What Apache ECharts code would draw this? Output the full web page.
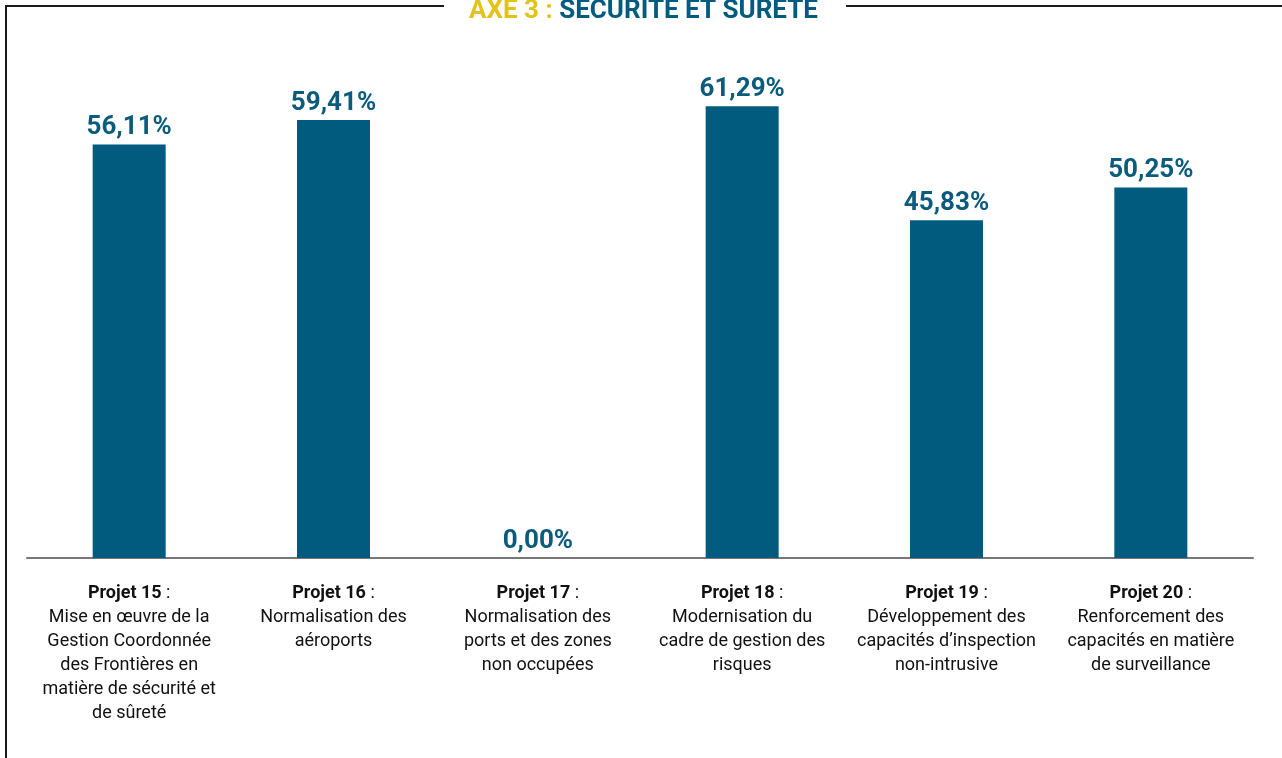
<!DOCTYPE html>
<html>
<head>
<meta charset="utf-8">
<script src="https://cdn.jsdelivr.net/npm/echarts@6/dist/echarts.min.js"></script>
<style>
html,body{margin:0;padding:0;background:#fff;}
#chart{width:1282px;height:758px;}
</style>
</head>
<body>
<div id="chart"></div>
<script>
const titlePrefix = 'AXE 3 : ';
const titleMain = 'SÉCURITÉ ET SÛRETÉ';
const projects = ['Projet 15', 'Projet 16', 'Projet 17', 'Projet 18', 'Projet 19', 'Projet 20'];
const descriptions = [
  'Mise en œuvre de la\nGestion Coordonnée\ndes Frontières en\nmatière de sécurité et\nde sûreté',
  'Normalisation des\naéroports',
  'Normalisation des\nports et des zones\nnon occupées',
  'Modernisation du\ncadre de gestion des\nrisques',
  'Développement des\ncapacités d’inspection\nnon-intrusive',
  'Renforcement des\ncapacités en matière\nde surveillance'
];
const values = [56.11, 59.41, 0.00, 61.29, 45.83, 50.25];

const TEAL = '#005b7f';
const YELLOW = '#e3c21a';
const FONT = 'Roboto';

const chart = echarts.init(document.getElementById('chart'));
chart.setOption({
  backgroundColor: '#ffffff',
  animation: false,
  title: {
    left: 469,
    top: -7,
    padding: [5, 0, 5, 0],
    text: '{y|' + titlePrefix + '}{t|' + titleMain + '}',
    textStyle: {
      rich: {
        y: { fontFamily: FONT, fontWeight: 'bold', fontSize: 26, color: YELLOW },
        t: { fontFamily: FONT, fontWeight: 'bold', fontSize: 26, color: TEAL }
      }
    }
  },
  graphic: [
    { type: 'polyline', silent: true, shape: { points: [[444, 6], [6, 6], [6, 758]] }, style: { stroke: '#1a1a1a', lineWidth: 2, fill: null } },
    { type: 'line', silent: true, shape: { x1: 846, y1: 6, x2: 1282, y2: 6 }, style: { stroke: '#1a1a1a', lineWidth: 2 } }
  ],
  grid: { left: 27, width: 1226, top: 42, bottom: 200, containLabel: false },
  xAxis: {
    type: 'category',
    data: projects,
    axisLine: { show: true, lineStyle: { color: '#777777', width: 2 } },
    axisTick: { show: false },
    axisLabel: {
      interval: 0,
      margin: 23,
      lineHeight: 24,
      formatter: function (v, i) {
        return '{b|' + v + '} :\n' + descriptions[i];
      },
      fontFamily: FONT,
      fontSize: 18,
      color: '#111111',
      rich: {
        b: { fontFamily: FONT, fontWeight: 'bold', fontSize: 18, color: '#111111', lineHeight: 24 }
      }
    }
  },
  yAxis: {
    type: 'value', min: 0, max: 70, show: false,
    splitLine: { show: false }
  },
  series: [{
    type: 'bar',
    data: values,
    barWidth: 73,
    itemStyle: { color: TEAL },
    label: {
      show: true,
      position: 'top',
      distance: 4,
      fontFamily: FONT,
      fontWeight: 'bold',
      fontSize: 26,
      color: '#0b5b7c',
      formatter: function (p) { return p.value.toFixed(2).replace('.', ',') + '%'; }
    }
  }]
});
</script>
</body>
</html>
